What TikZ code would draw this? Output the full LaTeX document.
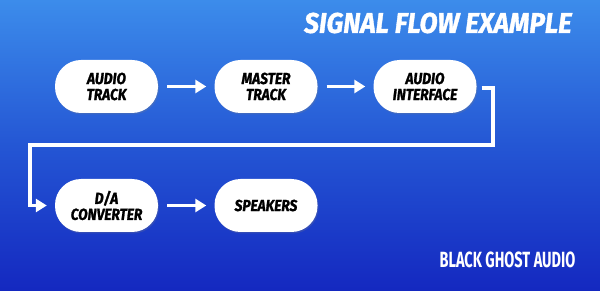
\documentclass[tikz,border=0pt]{standalone}
\usepackage{fontspec}
\setmainfont{Fira Sans}
\newfontfamily\nodefont[FakeStretch=0.86,FakeBold=1.3]{Fira Sans}
\newfontfamily\titlefont[FakeStretch=0.92,FakeBold=1.2]{Fira Sans}
\newfontfamily\brandfont[FakeStretch=0.66]{Fira Sans}
\usetikzlibrary{arrows.meta,shadows}
\definecolor{bgtop}{RGB}{60,140,235}
\definecolor{bgmid}{RGB}{36,86,212}
\definecolor{bgbot}{RGB}{20,40,192}
\tikzset{
  flowbox/.style={fill=white, rounded corners=26pt, minimum width=103pt, minimum height=53pt,
    inner sep=0pt, align=center, text=black,
    font=\nodefont\bfseries\itshape\fontsize{16}{16}\selectfont,
    drop shadow={opacity=0.25, shadow xshift=1pt, shadow yshift=-1.5pt}},
  flowarrow/.style={draw=white, line width=3.6pt, -{Triangle[length=11pt,width=13pt]}},
}
\begin{document}
\begin{tikzpicture}[x=1pt,y=-1pt]
\fill[top color=bgtop, bottom color=bgbot, middle color=bgmid] (0,0) rectangle (600,291);
\useasboundingbox (0,0) rectangle (600,291);
\node[text=white, font=\titlefont\bfseries\itshape\fontsize{28.5}{28.5}\selectfont] (title) at (438,23) {SIGNAL FLOW EXAMPLE};
\node[text=white, font=\brandfont\bfseries\fontsize{22}{22}\selectfont] (brand) at (507.5,259.5) {BLACK GHOST AUDIO};
\node[flowbox] (n1) at (106.5,86.5) {AUDIO\\TRACK};
\node[flowbox] (n2) at (266,86.5) {MASTER\\TRACK};
\node[flowbox] (n3) at (425,86.5) {AUDIO\\INTERFACE};
\node[flowbox] (n4) at (106.5,205.5) {D/A\\CONVERTER};
\node[flowbox] (n5) at (266,205.5) {SPEAKERS};
\coordinate (c1) at (493,145);
\coordinate (c2) at (30,145);
\draw[flowarrow, shorten <=9pt, shorten >=8pt] (n1) -- (n2);
\draw[flowarrow, shorten <=9pt, shorten >=8pt] (n2) -- (n3);
\draw[flowarrow, shorten <=9pt, shorten >=8pt] (n4) -- (n5);
\draw[flowarrow, line width=3.2pt, shorten <=5pt, shorten >=8pt] ([yshift=-1.5pt]n3.east) -| (c1) -- (c2) |- (n4.west);
\end{tikzpicture}
\end{document}
